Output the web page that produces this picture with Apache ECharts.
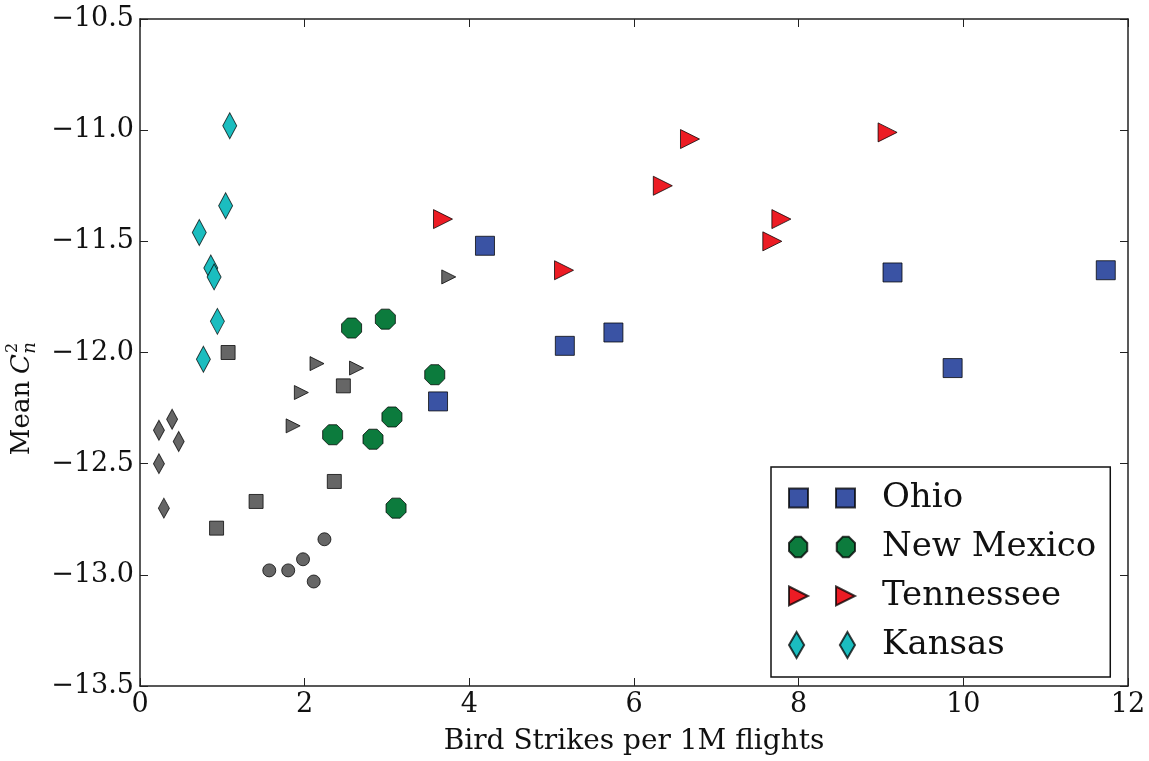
<!DOCTYPE html>
<html>
<head>
<meta charset="utf-8">
<title>Mean Cn2 vs bird strikes</title>
<script src="https://cdn.jsdelivr.net/npm/echarts@6/dist/echarts.min.js"></script>
<style>
  html, body { margin: 0; padding: 0; background: #fff; }
  #chart { width: 1149px; height: 761px; }
</style>
</head>
<body>
<div id="chart"></div>
<script>
// [bird strikes per 1M flights, mean Cn^2]
const ohio = [[4.19, -11.52], [3.62, -12.22], [5.16, -11.97], [5.75, -11.91], [9.14, -11.64], [9.87, -12.07], [11.73, -11.63]];
const newMexico = [[2.57, -11.89], [2.98, -11.85], [3.58, -12.10], [2.34, -12.37], [2.83, -12.39], [3.06, -12.29], [3.11, -12.70]];
const tennessee = [[6.68, -11.04], [6.35, -11.25], [3.68, -11.40], [7.79, -11.40], [7.68, -11.50], [5.15, -11.63], [9.08, -11.01]];
const kansas = [[1.09, -10.98], [1.04, -11.34], [0.72, -11.46], [0.86, -11.62], [0.90, -11.66], [0.94, -11.86], [0.77, -12.03]];

// grey (unlabelled) companion points
const ohioGrey = [[1.07, -12.00], [2.47, -12.15], [2.36, -12.58], [1.41, -12.67], [0.93, -12.79]];
const newMexicoGrey = [[2.24, -12.84], [1.98, -12.93], [1.57, -12.98], [1.80, -12.98], [2.11, -13.03]];
const tennesseeGrey = [[2.15, -12.05], [2.63, -12.07], [1.96, -12.18], [1.86, -12.33], [3.75, -11.66]];
const kansasGrey = [[0.39, -12.30], [0.23, -12.35], [0.47, -12.40], [0.23, -12.50], [0.29, -12.70]];

const xTicks = { min: 0, max: 12, interval: 2 };
const yTicks = { min: -13.5, max: -10.5, interval: 0.5 };

const chart = echarts.init(document.getElementById('chart'));

const font = 'DejaVu Serif';
const edge = 'rgba(0,0,0,0.75)';
const grey = '#666666';

const octagon = 'path://M69,4L96,31L96,69L69,96L31,96L4,69L4,31L31,4Z';
const triRight = 'path://M0,0L10,5L0,10Z';
const diamond = 'path://M5,0L10,10L5,20L0,10Z';

// matplotlib style: one decimal, real minus sign
const minusLabel = v => v.toFixed(1).replace('-', '\u2212');

const frameAxis = {
  axisLine: { show: true, onZero: false, lineStyle: { color: '#222', width: 1.5 } },
  axisTick: { show: true, inside: true, length: 8, lineStyle: { color: '#222', width: 1 } },
  splitLine: { show: false }
};

const series = [
  { name: 'Ohio', data: ohio, symbol: 'rect', symbolSize: 19, color: '#3A53A4' },
  { name: 'New Mexico', data: newMexico, symbol: octagon, symbolSize: 20, color: '#0C7B3D' },
  { name: 'Tennessee', data: tennessee, symbol: triRight, symbolSize: [19, 19], color: '#EC1C24' },
  { name: 'Kansas', data: kansas, symbol: diamond, symbolSize: [14, 26], color: '#1BBDBF' },
  { name: 'Ohio (grey)', data: ohioGrey, symbol: 'rect', symbolSize: 14, color: grey },
  { name: 'New Mexico (grey)', data: newMexicoGrey, symbol: 'circle', symbolSize: 13, color: grey },
  { name: 'Tennessee (grey)', data: tennesseeGrey, symbol: triRight, symbolSize: [14, 14], color: grey },
  { name: 'Kansas (grey)', data: kansasGrey, symbol: diamond, symbolSize: [11, 20], color: grey }
].map(s => ({
  name: s.name,
  type: 'scatter',
  data: s.data,
  symbol: s.symbol,
  symbolSize: s.symbolSize,
  itemStyle: { color: s.color, borderColor: edge, borderWidth: 1, opacity: 1 },
  emphasis: { disabled: true }
}));

const legendIcons = {
  'Ohio': 'path://M0,0h19v19h-19zM47,0h19v19h-19z',
  'New Mexico': 'path://M13,0L19,6L19,14L13,20L7,20L1,14L1,6L7,0ZM60,0L66,6L66,14L60,20L54,20L48,14L48,6L54,0Z',
  'Tennessee': 'path://M0,0L19,9.5L0,19ZM47,0L66,9.5L47,19Z',
  'Kansas': 'path://M7,0L14,12L7,24L0,12ZM54,0L61,12L54,24L47,12Z'
};

chart.setOption({
  backgroundColor: '#fff',
  animation: false,
  grid: { left: 140, right: 21, top: 19, bottom: 71 },
  legend: {
    orient: 'vertical',
    left: 771,
    top: 467,
    padding: [14, 14, 15, 17],
    itemGap: 15,
    itemWidth: 66,
    itemHeight: 26,
    borderColor: '#111',
    borderWidth: 1.5,
    backgroundColor: '#fff',
    data: Object.keys(legendIcons).map(n => ({ name: n, icon: legendIcons[n] })),
    textStyle: { fontFamily: font, fontSize: 34, color: '#111', padding: [0, 0, 0, 22] }
  },
  xAxis: [
    Object.assign({}, frameAxis, {
      type: 'value', position: 'bottom', ...xTicks,
      name: 'Bird Strikes per 1M flights',
      nameLocation: 'middle', nameGap: 42,
      nameTextStyle: { fontFamily: font, fontSize: 28, color: '#111' },
      axisLabel: { fontFamily: font, fontSize: 27, color: '#111', margin: 5 }
    }),
    Object.assign({}, frameAxis, {
      type: 'value', position: 'top', ...xTicks,
      axisLabel: { show: false }
    })
  ],
  yAxis: [
    Object.assign({}, frameAxis, {
      type: 'value', position: 'left', ...yTicks,
      axisLabel: { fontFamily: font, fontSize: 27, color: '#111', margin: 6, formatter: minusLabel }
    }),
    Object.assign({}, frameAxis, {
      type: 'value', position: 'right', ...yTicks,
      axisLabel: { show: false }
    })
  ],
  graphic: [{
    type: 'group',
    x: 22,
    y: 379,
    rotation: Math.PI / 2,
    children: [
      { type: 'text', x: -39, y: 0, style: { text: 'Mean', font: '26px "DejaVu Serif"', fill: '#111', verticalAlign: 'middle', align: 'center' } },
      { type: 'text', x: 15, y: 0, style: { text: 'C', font: 'italic 26px "DejaVu Serif"', fill: '#111', verticalAlign: 'middle', align: 'center' } },
      { type: 'text', x: 31, y: -9, style: { text: '2', font: '16px "DejaVu Serif"', fill: '#111', verticalAlign: 'middle', align: 'center' } },
      { type: 'text', x: 31, y: 8, style: { text: 'n', font: 'italic 18px "DejaVu Serif"', fill: '#111', verticalAlign: 'middle', align: 'center' } }
    ]
  }],
  series: series
});
</script>
</body>
</html>
